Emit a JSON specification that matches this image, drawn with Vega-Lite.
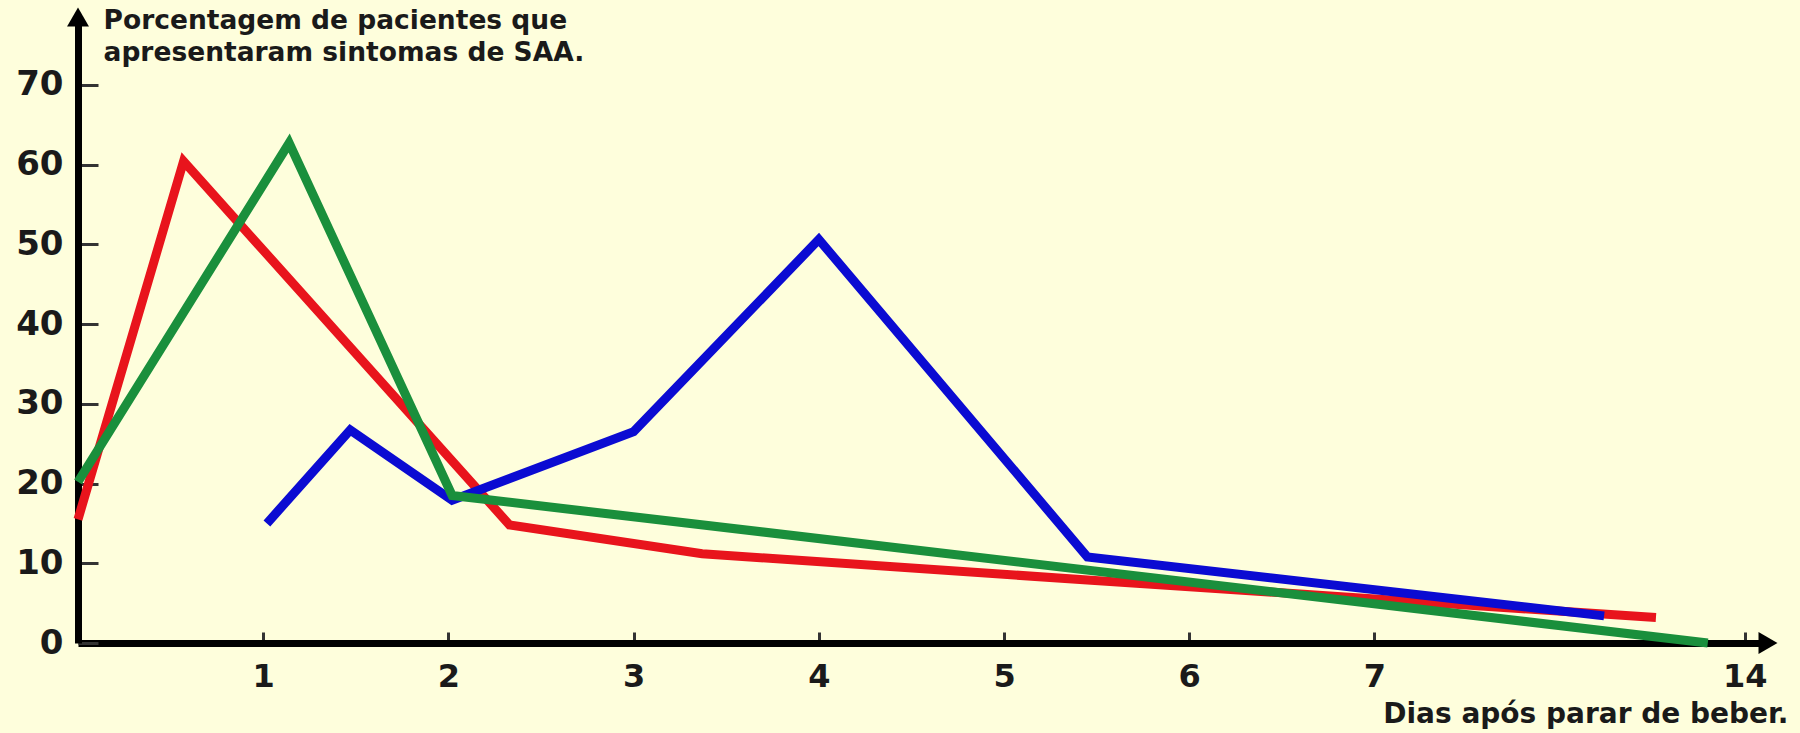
{
  "$schema": "https://vega.github.io/schema/vega-lite/v6.json",
  "autosize": {"type": "none"},
  "width": 1690,
  "height": 626,
  "padding": {"left": 78, "top": 17, "right": 32, "bottom": 90},
  "background": "#fefedc",
  "config": {
    "view": {"stroke": null},
    "font": "DejaVu Sans"
  },
  "datasets": {
    "series": [
      {"serie": "vermelha", "dia": 0, "pct": 15.5},
      {"serie": "vermelha", "dia": 0.57, "pct": 60.4},
      {"serie": "vermelha", "dia": 2.33, "pct": 14.8},
      {"serie": "vermelha", "dia": 3.37, "pct": 11.2},
      {"serie": "vermelha", "dia": 5.45, "pct": 7.9},
      {"serie": "vermelha", "dia": 8.52, "pct": 3.2},
      {"serie": "azul", "dia": 1.02, "pct": 15.0},
      {"serie": "azul", "dia": 1.47, "pct": 26.7},
      {"serie": "azul", "dia": 2.02, "pct": 17.9},
      {"serie": "azul", "dia": 3.0, "pct": 26.5},
      {"serie": "azul", "dia": 4.0, "pct": 50.6},
      {"serie": "azul", "dia": 5.45, "pct": 10.8},
      {"serie": "azul", "dia": 8.24, "pct": 3.4},
      {"serie": "verde", "dia": 0, "pct": 20.2},
      {"serie": "verde", "dia": 1.14, "pct": 62.7},
      {"serie": "verde", "dia": 2.02, "pct": 18.5},
      {"serie": "verde", "dia": 8.8, "pct": 0}
    ],
    "arrows": [
      {"dia": 0, "pct": 78.5, "forma": "triangle-up"},
      {"dia": 9.125, "pct": 0, "forma": "triangle-right"}
    ]
  },
  "layer": [
    {
      "data": {"name": "series"},
      "transform": [{"filter": "datum.serie == 'vermelha'"}],
      "mark": {"type": "line", "color": "#e8141c", "strokeWidth": 9, "strokeJoin": "miter", "strokeCap": "butt"},
      "encoding": {
        "x": {
          "field": "dia", "type": "quantitative",
          "scale": {"domain": [0, 9.125], "nice": false, "zero": false},
          "axis": {
            "values": [1, 2, 3, 4, 5, 6, 7, 9],
            "format": "d",
            "labelExpr": "datum.value == 9 ? '14' : datum.label",
            "grid": false,
            "domainColor": "#000000", "domainWidth": 7,
            "tickColor": "#333333", "tickWidth": 3, "tickSize": -11,
            "labelPadding": 29, "labelFontSize": 32, "labelFontWeight": "bold", "labelColor": "#1a1a1a",
            "labelFont": "DejaVu Sans",
            "title": "Dias após parar de beber.",
            "titleFont": "DejaVu Sans", "titleFontSize": 28, "titleFontWeight": "bold", "titleColor": "#1a1a1a",
            "titleAngle": 0, "titleAlign": "right", "titleBaseline": "alphabetic",
            "titleX": 1710, "titleY": 79
          }
        },
        "y": {
          "field": "pct", "type": "quantitative",
          "scale": {"domain": [0, 78.5], "nice": false},
          "axis": {
            "values": [0, 10, 20, 30, 40, 50, 60, 70],
            "grid": false,
            "domainColor": "#000000", "domainWidth": 7,
            "tickColor": "#333333", "tickWidth": 3, "tickSize": -20,
            "labelPadding": 35, "labelFontSize": 34, "labelFontWeight": "bold", "labelColor": "#1a1a1a",
            "labelFont": "DejaVu Sans",
            "title": ["Porcentagem de pacientes que", "apresentaram sintomas de SAA."],
            "titleFont": "DejaVu Sans", "titleFontSize": 26.5, "titleFontWeight": "bold", "titleColor": "#1a1a1a",
            "titleAngle": 0, "titleAlign": "left", "titleBaseline": "top",
            "titleLineHeight": 32,
            "titleX": 25, "titleY": -10
          }
        }
      }
    },
    {
      "data": {"name": "series"},
      "transform": [{"filter": "datum.serie == 'azul'"}],
      "mark": {"type": "line", "color": "#0b0bd2", "strokeWidth": 9, "strokeJoin": "miter", "strokeCap": "butt"},
      "encoding": {
        "x": {"field": "dia", "type": "quantitative"},
        "y": {"field": "pct", "type": "quantitative"}
      }
    },
    {
      "data": {"name": "series"},
      "transform": [{"filter": "datum.serie == 'verde'"}],
      "mark": {"type": "line", "color": "#1a8f3c", "strokeWidth": 9, "strokeJoin": "miter", "strokeCap": "butt"},
      "encoding": {
        "x": {"field": "dia", "type": "quantitative"},
        "y": {"field": "pct", "type": "quantitative"}
      }
    },
    {
      "data": {"name": "arrows"},
      "mark": {"type": "point", "filled": true, "color": "#000000", "opacity": 1, "size": 480},
      "encoding": {
        "x": {"field": "dia", "type": "quantitative"},
        "y": {"field": "pct", "type": "quantitative"},
        "shape": {"field": "forma", "type": "nominal", "scale": null, "legend": null}
      }
    }
  ]
}
